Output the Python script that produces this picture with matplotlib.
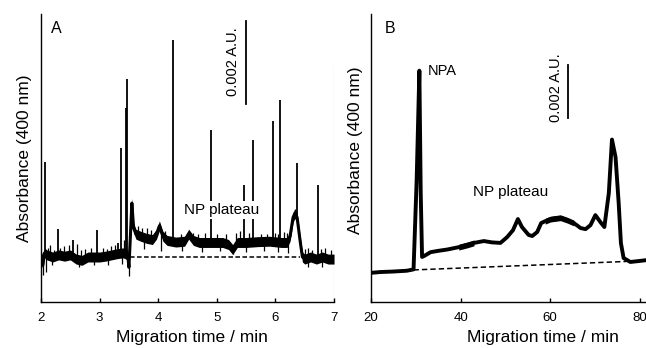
import numpy as np
import matplotlib.pyplot as plt

plt.rcParams['font.family'] = ['Liberation Sans', 'DejaVu Sans']

# ---- Panel A: 2-7 min run (absorbance in mAU relative to baseline) ----
a_time = [2.00, 2.03, 2.06, 2.10, 2.20, 2.30, 2.40, 2.50, 2.60, 2.70, 2.80, 2.90,
          3.00, 3.10, 3.20, 3.30, 3.40, 3.48, 3.50, 3.52, 3.55, 3.58, 3.62, 3.70,
          3.80, 3.90, 3.97, 4.02, 4.08, 4.15, 4.30, 4.45, 4.52, 4.60, 4.70, 4.90,
          5.10, 5.20, 5.27, 5.35, 5.50, 5.70, 5.90, 6.10, 6.20, 6.25, 6.30, 6.33,
          6.37, 6.42, 6.46, 6.50, 6.60, 6.70, 6.80, 6.90, 7.00]
a_value = [0.05, -0.20, 0.10, 0.05, 0.00, 0.05, 0.02, 0.05, -0.05, -0.08, 0.00, 0.00,
           0.00, 0.02, 0.05, 0.08, 0.10, 0.05, -0.25, 0.35, 1.30, 0.70, 0.55, 0.50,
           0.45, 0.42, 0.55, 0.75, 0.50, 0.40, 0.36, 0.38, 0.55, 0.40, 0.35, 0.35,
           0.35, 0.30, 0.18, 0.35, 0.35, 0.37, 0.38, 0.35, 0.35, 0.50, 0.95, 1.05,
           0.95, 0.40, 0.00, -0.05, 0.00, -0.05, 0.00, -0.05, -0.05]

# sharp spikes (time, top)
a_spike_t = [2.07, 2.29, 2.55, 2.96, 3.31, 3.36, 3.45, 3.47, 4.25, 4.90, 5.46,
             5.61, 5.96, 6.08, 6.36, 6.73]
a_spike_top = [2.30, 0.67, 0.41, 0.65, 0.33, 2.62, 3.60, 4.29, 5.23, 3.06, 1.73,
               2.82, 3.28, 3.78, 2.27, 1.73]
# small noise tips, up and down
a_tip_t = [2.12, 2.15, 2.22, 2.33, 2.40, 2.47, 2.62, 2.68, 2.75, 2.85, 3.05, 3.13,
           3.20, 3.27, 3.42, 3.65, 3.72, 3.80, 3.88, 4.12, 4.38, 4.60, 4.68, 4.80,
           5.00, 5.15, 5.32, 5.40, 5.55, 5.75, 5.85, 6.00, 6.05, 6.15, 6.20, 6.50,
           6.55, 6.62, 6.78, 6.85, 6.95]
a_tip_top = [0.22, 0.28, 0.18, 0.22, 0.26, 0.28, 0.32, 0.18, 0.20, 0.22, 0.22, 0.20,
             0.26, 0.28, 0.42, 0.75, 0.70, 0.70, 0.65, 0.62, 0.55, 0.58, 0.55, 0.58,
             0.55, 0.55, 0.58, 0.62, 0.58, 0.56, 0.55, 0.58, 0.55, 0.60, 0.58, 0.20,
             0.22, 0.18, 0.20, 0.22, 0.18]
a_dip_t = [2.04, 2.08, 2.18, 2.65, 2.90, 3.15, 3.38, 3.50, 3.75, 4.05, 4.40, 4.75,
           5.05, 5.27, 5.50, 5.80, 6.05, 6.22, 6.55, 6.80]
a_dip_bottom = [-0.43, -0.35, -0.20, -0.25, -0.20, -0.20, -0.18, -0.46, 0.20, 0.15,
                0.15, 0.12, 0.15, 0.08, 0.12, 0.15, 0.12, 0.10, -0.25, -0.25]
a_edge_t = 7.0
a_edge_top = 4.63
a_dash = [3.52, 6.42]

# ---- Panel B: 20-80 min run ----
b_time = [20, 22, 25, 28, 29.5, 30.2, 30.8, 31.1, 31.4, 32, 33.3, 35, 37, 39.6,
          41.4, 43, 45.2, 47, 48.9, 50.4, 51.7, 52.8, 53.7, 55.2, 56, 57.1, 58,
          58.9, 60.1, 62.3, 63.8, 65.3, 66.8, 67.9, 69, 70.1, 71.2, 72.1, 73.1,
          73.8, 74.6, 75.3, 75.8, 76.4, 77.9, 80, 81.5]
b_value = [-0.03, 0.00, 0.02, 0.05, 0.10, 3.50, 7.60, 3.00, 0.57, 0.62, 0.75,
           0.80, 0.85, 0.94, 1.02, 1.10, 1.17, 1.12, 1.10, 1.32, 1.58, 2.00, 1.70,
           1.40, 1.36, 1.51, 1.85, 1.92, 2.00, 2.05, 1.96, 1.85, 1.66, 1.62, 1.77,
           2.15, 1.89, 1.70, 2.98, 5.00, 4.34, 2.60, 1.09, 0.53, 0.38, 0.42, 0.45]
b_noisy = [(39.6, 43.0), (58.9, 65.3)]
b_dash_t = [29.5, 77.0]
b_dash_v = [0.08, 0.40]

fig = plt.figure(figsize=(6.46, 3.48), dpi=100)
axA = fig.add_axes([0.0635, 0.1322, 0.4536, 0.8276])
axB = fig.add_axes([0.5743, 0.1322, 0.4257, 0.8276])

for ax in (axA, axB):
    for s in ('top', 'right'):
        ax.spines[s].set_visible(False)
    ax.spines['left'].set_linewidth(1.0)
    ax.spines['bottom'].set_linewidth(1.0)
    ax.set_yticks([])
    ax.tick_params(axis='x', direction='in', length=3, width=1, labelsize=9.5, pad=7.5)
    ax.set_ylabel('Absorbance (400 nm)', fontsize=12.5)
    ax.set_xlabel('Migration time / min', fontsize=12.5)

# Panel A
a_time = np.array(a_time)
a_value = np.array(a_value)
axA.plot(a_dash, [0, 0], color='black', lw=1.1, ls=(0, (3, 1.6)), zorder=1)
axA.fill_between(a_time, a_value - 0.12, a_value + 0.12, color='black', lw=0, zorder=2)
axA.plot(a_time, a_value, color='black', lw=2.2, zorder=2)
axA.vlines(a_spike_t, np.interp(a_spike_t, a_time, a_value), a_spike_top,
           color='black', lw=1.3, zorder=2)
axA.vlines(a_tip_t, np.interp(a_tip_t, a_time, a_value), a_tip_top,
           color='black', lw=0.9, zorder=2)
axA.vlines(a_dip_t, a_dip_bottom, np.interp(a_dip_t, a_time, a_value),
           color='black', lw=0.9, zorder=2)
axA.vlines([a_edge_t], -1.084, [a_edge_top], color='0.7', lw=0.8, zorder=1)
axA.set_xlim(2, 7)
axA.set_ylim(-1.084, 5.855)
axA.set_xticks([2, 3, 4, 5, 6, 7])
axA.xaxis.set_label_coords(0.515, -0.097)
axA.yaxis.set_label_coords(-0.031, 0.5)
axA.text(0.052, 0.95, 'A', transform=axA.transAxes, fontsize=11.5,
         ha='center', va='center')
axA.text(5.08, 1.13, 'NP plateau', fontsize=11, ha='center', va='center',
         bbox=dict(facecolor='white', edgecolor='none', pad=1.5), zorder=5)
axA.plot([5.5, 5.5], [3.69, 5.69], color='black', lw=1.3)
axA.text(5.27, 4.7, '0.002 A.U.', rotation=90, fontsize=10.5,
         ha='center', va='center')

# Panel B
b_time = np.array(b_time)
b_value = np.array(b_value)
axB.plot(b_dash_t, b_dash_v, color='black', lw=1.1, ls=(0, (3.5, 2)), zorder=1)
axB.plot(b_time, b_value, color='black', lw=2.8, solid_joinstyle='round', zorder=2)
for lo, hi in b_noisy:
    m = (b_time >= lo) & (b_time <= hi)
    axB.fill_between(b_time[m], b_value[m] - 0.11, b_value[m] + 0.11,
                     color='black', lw=0, zorder=2)
axB.set_xlim(20, 81.4)
axB.set_ylim(-1.13, 9.74)
axB.set_xticks([20, 40, 60, 80])
axB.xaxis.set_label_coords(0.625, -0.097)
axB.yaxis.set_label_coords(-0.029, 0.528)
axB.text(0.07, 0.95, 'B', transform=axB.transAxes, fontsize=11.5,
         ha='center', va='center')
axB.text(32.6, 7.59, 'NPA', fontsize=10.5, ha='left', va='center')
axB.text(51.1, 3.03, 'NP plateau', fontsize=11, ha='center', va='center')
axB.plot([64.0, 64.0], [5.81, 7.81], color='black', lw=1.3)
axB.text(61.4, 6.94, '0.002 A.U.', rotation=90, fontsize=10.5,
         ha='center', va='center')

fig.savefig('out.png', dpi=100)
